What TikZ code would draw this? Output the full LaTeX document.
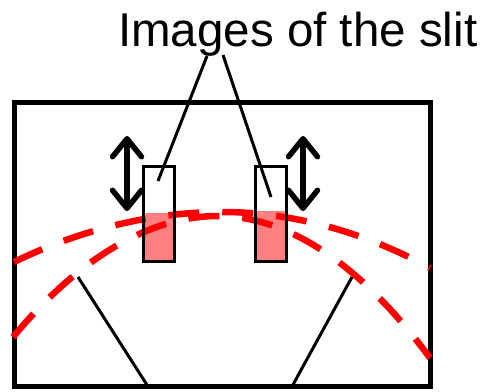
\documentclass[tikz,border=0pt]{standalone}
\usepackage{fontspec}
\setmainfont{Liberation Sans}
\usetikzlibrary{arrows.meta}
\definecolor{slitfill}{RGB}{255,128,128}

\begin{document}
\begin{tikzpicture}[
			x=1pt, y=-1pt,
			frame/.style={
				draw,
				line width=5pt,
				inner sep=0pt,
				outer sep=0pt,
				minimum width=416pt,
				minimum height=284.5pt
			},
			slit/.style={
				draw,
				line width=3pt,
				inner sep=0pt,
				outer sep=0pt,
				minimum width=31pt,
				minimum height=95pt
			},
			beam/.style={red, line width=6.5pt, dash pattern=on 31pt off 23pt},
			move/.style={
				{Straight Barb[round,length=18pt,width=29pt]}-{Straight Barb[round,length=18pt,width=29pt]},
				line width=5.5pt
			},
			leader/.style={line width=3pt}
			]
			
			\useasboundingbox (0,0) rectangle (484,391);
			
			%%%%%%%%%%%%%%%%%%%%%%%%%%%%%%%%%%%%%%%%%%%%%%%%%%%%%%%%%%%%
			% Screen
			%%%%%%%%%%%%%%%%%%%%%%%%%%%%%%%%%%%%%%%%%%%%%%%%%%%%%%%%%%%%
			
			\node[frame] (screen) at (222.5,244.25) {};
			
			%%%%%%%%%%%%%%%%%%%%%%%%%%%%%%%%%%%%%%%%%%%%%%%%%%%%%%%%%%%%
			% Lit part of the slits
			%%%%%%%%%%%%%%%%%%%%%%%%%%%%%%%%%%%%%%%%%%%%%%%%%%%%%%%%%%%%
			
			\fill[slitfill] (143.5,213) rectangle (174.5,261);
			
			\fill[slitfill] (255.5,211) rectangle (286.5,261);
			
			%%%%%%%%%%%%%%%%%%%%%%%%%%%%%%%%%%%%%%%%%%%%%%%%%%%%%%%%%%%%
			% Beams
			%%%%%%%%%%%%%%%%%%%%%%%%%%%%%%%%%%%%%%%%%%%%%%%%%%%%%%%%%%%%
			
			\draw[beam] (14,262) parabola bend (222,212) (430,268);
			
			\draw[beam] (13,337) parabola bend (218,216) (430,358);
			
			%%%%%%%%%%%%%%%%%%%%%%%%%%%%%%%%%%%%%%%%%%%%%%%%%%%%%%%%%%%%
			% Slits
			%%%%%%%%%%%%%%%%%%%%%%%%%%%%%%%%%%%%%%%%%%%%%%%%%%%%%%%%%%%%
			
			\node[slit] (slitL) at (159,213.5) {};
			
			\node[slit] (slitR) at (271,213.5) {};
			
			%%%%%%%%%%%%%%%%%%%%%%%%%%%%%%%%%%%%%%%%%%%%%%%%%%%%%%%%%%%%
			% Label
			%%%%%%%%%%%%%%%%%%%%%%%%%%%%%%%%%%%%%%%%%%%%%%%%%%%%%%%%%%%%
			
			\node[anchor=base west, inner sep=0pt, font=\fontsize{47.5}{57}\selectfont] (caption) at (118,46)
			{Images of the slit};
			
			\coordinate (capL) at (207,56);
			\coordinate (capR) at (223,55);
			\coordinate (inL) at (158,181);
			\coordinate (inR) at (271,197);
			
			%%%%%%%%%%%%%%%%%%%%%%%%%%%%%%%%%%%%%%%%%%%%%%%%%%%%%%%%%%%%
			% Motion arrows
			%%%%%%%%%%%%%%%%%%%%%%%%%%%%%%%%%%%%%%%%%%%%%%%%%%%%%%%%%%%%
			
			\coordinate (upL) at (127,136);
			\coordinate (downL) at (127,211);
			\coordinate (upR) at (303,136);
			\coordinate (downR) at (303,211);
			
			\draw[move] (upL) -- (downL);
			
			\draw[move] (upR) -- (downR);
			
			%%%%%%%%%%%%%%%%%%%%%%%%%%%%%%%%%%%%%%%%%%%%%%%%%%%%%%%%%%%%
			% Connections
			%%%%%%%%%%%%%%%%%%%%%%%%%%%%%%%%%%%%%%%%%%%%%%%%%%%%%%%%%%%%
			
			% label to slits
			
			\draw[leader] (capL) -- (inL);
			
			\draw[leader] (capR) -- (inR);
			
			% fan below
			
			\coordinate (fanL) at (78,277);
			\coordinate (fanR) at (352,277);
			\coordinate (footL) at (148,386.5);
			\coordinate (footR) at (292,386.5);
			
			\draw[leader] (fanL) -- (footL);
			
			\draw[leader] (fanR) -- (footR);
			
			%%%%%%%%%%%%%%%%%%%%%%%%%%%%%%%%%%%%%%%%%%%%%%%%%%%%%%%%%%%%
			
		\end{tikzpicture}
\end{document}
